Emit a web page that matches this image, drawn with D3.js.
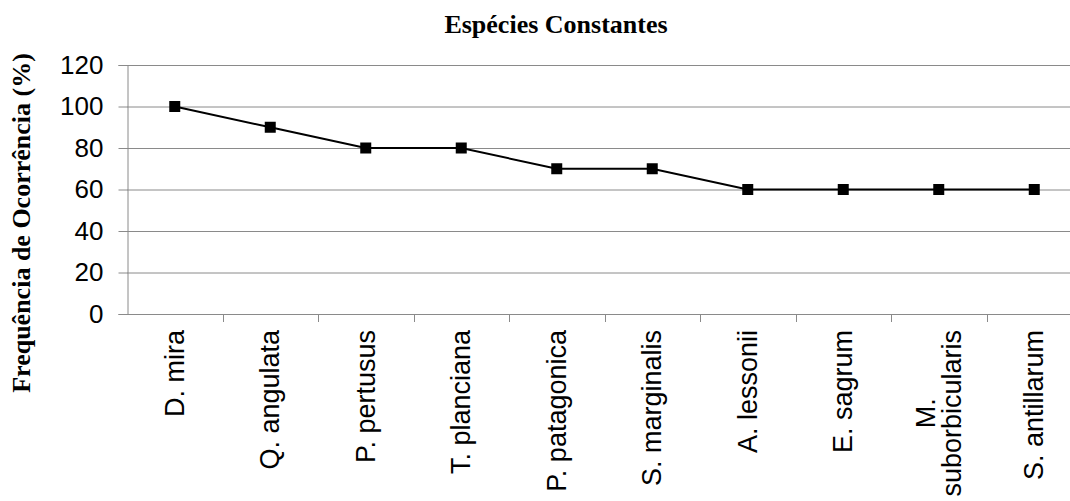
<!DOCTYPE html>
<html>
<head>
<meta charset="utf-8">
<script src="https://cdn.jsdelivr.net/npm/d3@7"></script>
<style>
  html, body { margin: 0; padding: 0; background: #fff; }
  svg { display: block; }
</style>
</head>
<body>
<svg id="chart" width="1070" height="501"></svg>
<script>
// Species recorded in every sample group, with their frequency of occurrence
const species = [
  "D. mira", "Q. angulata", "P. pertusus", "T. planciana", "P. patagonica",
  "S. marginalis", "A. lessonii", "E. sagrum", "M.\nsuborbicularis", "S. antillarum"
];
const frequency = [100, 90, 80, 80, 70, 70, 60, 60, 60, 60];
const yTicks = [0, 20, 40, 60, 80, 100, 120];

const title = "Espécies Constantes";
const yTitle = "Frequência de Ocorrência (%)";

const svg = d3.select("#chart");
const plot = { left: 127, right: 1082, top: 65, bottom: 314 };

const x = d3.scaleBand().domain(species).range([plot.left, plot.right]).padding(0);
const y = d3.scaleLinear().domain([0, 120]).range([plot.bottom, plot.top]);

const gridColor = "#8a8a8a";

// horizontal gridlines
svg.append("g")
  .selectAll("line")
  .data(yTicks.filter(d => d > 0))
  .join("line")
  .attr("x1", plot.left).attr("x2", plot.right)
  .attr("y1", d => y(d) + 0.5).attr("y2", d => y(d) + 0.5)
  .attr("stroke", gridColor).attr("stroke-width", 1);

// y axis
const yAxis = svg.append("g")
  .attr("transform", `translate(${plot.left + 0.5},0)`)
  .call(d3.axisLeft(y).tickValues(yTicks).tickSize(9).tickPadding(15));
yAxis.select(".domain").attr("stroke", gridColor);
yAxis.selectAll(".tick line").attr("stroke", gridColor);
yAxis.selectAll(".tick text")
  .attr("fill", "#000")
  .style("font-family", "Arial, 'Liberation Sans', sans-serif")
  .style("font-size", "26px");

// x axis (category boundaries as ticks)
const xAxisG = svg.append("g");
xAxisG.append("line")
  .attr("x1", plot.left).attr("x2", plot.right)
  .attr("y1", plot.bottom + 0.5).attr("y2", plot.bottom + 0.5)
  .attr("stroke", gridColor);
xAxisG.selectAll("line.tk")
  .data(species.slice(1).concat(["__end"]))
  .join("line")
  .attr("class", "tk")
  .attr("x1", (d, i) => Math.round(plot.left + x.bandwidth() * (i + 1)) + 0.5)
  .attr("x2", (d, i) => Math.round(plot.left + x.bandwidth() * (i + 1)) + 0.5)
  .attr("y1", plot.bottom).attr("y2", plot.bottom + 8)
  .attr("stroke", gridColor);

// rotated category labels, block top-aligned below axis, lines centred in block
const labelTop = 330;
const lineGap = 26;
const labels = svg.append("g")
  .style("font-family", "Arial, 'Liberation Sans', sans-serif")
  .style("font-size", "27px")
  .attr("fill", "#000");

species.forEach(name => {
  const lines = name.split("\n");
  const cx = x(name) + x.bandwidth() / 2;
  const g = labels.append("g");
  const texts = lines.map(l => g.append("text").text(l).attr("text-anchor", "middle")
    .attr("dominant-baseline", "central"));
  const maxLen = d3.max(texts, t => t.node().getComputedTextLength());
  const cy = labelTop + maxLen / 2;
  texts.forEach((t, i) => {
    const dx = (i - (lines.length - 1) / 2) * lineGap;
    t.attr("transform", `translate(${cx + dx},${cy}) rotate(-90)`);
  });
});

// series line
svg.append("path")
  .datum(frequency)
  .attr("fill", "none")
  .attr("stroke", "#000")
  .attr("stroke-width", 2)
  .attr("d", d3.line()
    .x((d, i) => x(species[i]) + x.bandwidth() / 2)
    .y(d => y(d)));

// square markers
const ms = 11;
svg.append("g")
  .selectAll("rect")
  .data(frequency)
  .join("rect")
  .attr("x", (d, i) => x(species[i]) + x.bandwidth() / 2 - ms / 2)
  .attr("y", d => y(d) - ms / 2)
  .attr("width", ms).attr("height", ms)
  .attr("fill", "#000");

// chart title
svg.append("text")
  .attr("x", 556).attr("y", 33)
  .attr("text-anchor", "middle")
  .style("font-family", "'Times New Roman', 'Liberation Serif', serif")
  .style("font-weight", "bold")
  .style("font-size", "26px")
  .text(title);

// y axis title
svg.append("text")
  .attr("transform", `translate(30,223) rotate(-90)`)
  .attr("text-anchor", "middle")
  .style("font-family", "'Times New Roman', 'Liberation Serif', serif")
  .style("font-weight", "bold")
  .style("font-size", "26px")
  .text(yTitle);
</script>
</body>
</html>
